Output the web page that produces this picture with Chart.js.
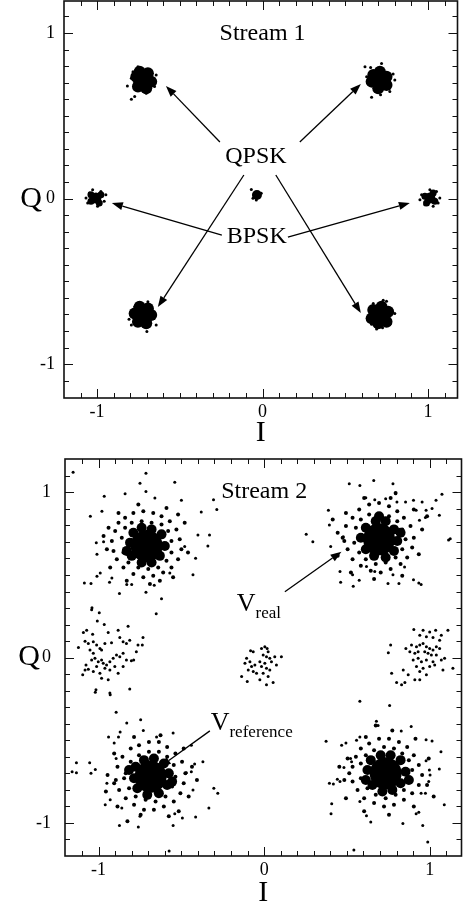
<!DOCTYPE html>
<html>
<head>
<meta charset="utf-8">
<script src="https://cdn.jsdelivr.net/npm/chart.js@4.4.0/dist/chart.umd.min.js"></script>
<style>
  body { margin: 0; background: #fff; overflow: hidden; }
  canvas { position: absolute; left: 0; }
</style>
</head>
<body>
<canvas id="stream1" width="463" height="451" style="top:0"></canvas>
<canvas id="stream2" width="463" height="461" style="top:450px"></canvas>
<script>
// axis tick labels (both plots)
const axisTicks = [-1, 0, 1];

// ---- Stream 1: tight clusters ----
// QPSK blob centres (I, Q)
const s1Qpsk = [[-0.723, 0.716], [0.709, 0.716], [-0.723, -0.704], [0.709, -0.704]];
// BPSK blobs and the small centre blob
const s1Bpsk = [[-1.007, 0.003], [1.011, 0.003]];
const s1Mid = [[-0.034, 0.021]];
// lumps giving each blob its ragged outline (hundredths of a unit)
const s1QpskLobes = [
  [[-4, 2], [-2, 5], [3, 4], [5, -1], [2, -5], [-3, -4]],
  [[-4, 3], [0, 5], [4, 2], [4, -3], [-1, -5], [-5, -1]],
  [[-5, 1], [-2, 5], [3, 4], [5, 0], [2, -5], [-3, -4]],
  [[-4, 3], [1, 5], [5, 2], [4, -4], [-1, -5], [-5, -2]]
];
const s1BpskLobes = [
  [[-3, 2], [3, 2], [2, -3], [-3, -2]],
  [[-3, 1], [2, 3], [3, -2], [-2, -3]]
];
// stray dots round each blob (hundredths)
const s1QpskDots = [
  [[-9.4, -3.6], [-7, -11.6], [-5, -10], [-6, 5], [-7, 1], [8, 3], [7, -4], [2, -8], [-3, 8]],
  [[-9, 8], [-5.6, 7.6], [1, 10], [8, 3.6], [9, 0], [-5, -10.4], [0.4, -9], [6, -7], [-8, 2]],
  [[-8.4, -2.6], [-7, -6], [2.4, -10], [8, -6], [7, -1], [-5, 5], [3, 8]],
  [[-7, -2.4], [-5, -5.6], [-2, -8.4], [1.6, -7.6], [6, -5.6], [9, 1], [4, 8.4], [2, 9], [-4, 7]]
];
const s1BpskDots = [
  [[-4, 3], [3, 4], [5, -2], [-5, -3], [1, -5], [6, 2], [-2, 5], [-6, 0]],
  [[-5, 2], [4, 4], [5, -3], [-3, -4], [0, 5], [6, 0], [-6, -1], [2, -5]]
];
const s1MidDots = [[[-3.4, 3.4], [-2.4, -2], [2.6, 1], [-0.4, -3]]];

const s1Labels = [
  { text: 'Stream 1', x: 0.0, y: 0.994 },
  { text: 'QPSK', x: -0.04, y: 0.25 },
  { text: 'BPSK', x: -0.035, y: -0.233 }
];
// arrows: from (I, Q) to (I, Q)
const s1Arrows = [
  [-0.258, 0.341, -0.584, 0.680],
  [0.225, 0.341, 0.594, 0.692],
  [-0.113, 0.142, -0.633, -0.656],
  [0.080, 0.142, 0.594, -0.692],
  [-0.246, -0.221, -0.911, -0.027],
  [0.153, -0.233, 0.890, -0.027]
];

// ---- Stream 2: spread clusters ----
const s2Qpsk = [[-0.71, 0.676], [0.694, 0.716], [-0.686, -0.72], [0.734, -0.70]];
const s2Side = [[-0.972, 0.016], [-0.014, -0.032], [0.97, 0.016]];

// lumps that make up the dense middle of each QPSK cluster (hundredths)
const s2Lobes = [
  [[-10,2],[-8,8],[-3,11],[3,10],[9,7],[11,0],[8,-6],[3,-10],[-3,-10],[-9,-6],[-5,4],[5,3],[0,-4],[-12,-3]],
  [[-11,1],[-8,7],[-2,11],[4,11],[9,6],[11,-1],[9,-7],[4,-11],[-3,-10],[-8,-6],[-4,3],[5,-3],[13,4],[0,14]],
  [[-10,-1],[-9,6],[-4,10],[2,11],[8,8],[11,2],[10,-5],[5,-10],[-2,-11],[-8,-7],[-3,-3],[4,4],[-13,4],[13,-3]],
  [[-11,2],[-9,8],[-3,11],[3,11],[9,8],[12,1],[9,-6],[4,-10],[-2,-11],[-8,-7],[-4,-2],[5,2],[14,-4],[-12,-4]]
];

// dense fringe round each QPSK core (hundredths)
const s2Fringe = [
  [[-21,3],[-19,9],[-17,14],[-13,17],[-8,20],[-2,21],[4,20],[9,18],[14,15],[18,10],[20,4],[21,-2],[19,-8],[15,-13],[10,-16],[4,-18],[-2,-19],[-8,-17],[-14,-13],[-18,-8],[-20,-3],
   [-15,5],[-13,11],[-9,14],[-3,15],[3,14],[9,13],[13,9],[15,3],[15,-4],[12,-9],[7,-13],[1,-14],[-5,-13],[-11,-10],[-14,-4],
   [-24,-2],[-23,11],[-5,25],[12,23],[23,14],[25,-4],[16,-19],[2,-23],[-12,-21],[-22,-13],[-26,6],[19,19],[-17,20],[8,-21]],
  [[-22,1],[-20,8],[-16,13],[-12,18],[-6,21],[0,22],[6,20],[11,17],[15,13],[19,8],[21,1],[20,-5],[17,-11],[13,-15],[7,-18],[1,-20],[-5,-19],[-11,-16],[-16,-12],[-19,-6],[-21,-1],
   [-14,7],[-11,12],[-6,15],[0,15],[6,14],[11,11],[14,6],[16,0],[14,-6],[10,-11],[4,-14],[-2,-15],[-8,-12],[-12,-8],[-15,-2],
   [-25,4],[-20,16],[-9,25],[7,25],[21,18],[26,6],[24,-9],[14,-22],[-3,-24],[-17,-20],[-25,-10],[29,14],[-28,12],[10,28]],
  [[-21,-2],[-20,6],[-17,12],[-12,17],[-7,19],[-1,21],[5,21],[10,18],[15,14],[19,9],[21,2],[20,-4],[18,-10],[14,-15],[8,-18],[2,-20],[-4,-20],[-10,-17],[-15,-13],[-19,-8],[-22,-4],
   [-15,2],[-12,9],[-7,13],[-1,15],[5,15],[10,12],[14,7],[15,0],[13,-6],[9,-12],[3,-15],[-3,-14],[-9,-12],[-13,-7],[-16,-1],
   [-26,1],[-22,14],[-10,24],[6,25],[20,17],[25,6],[23,-12],[11,-24],[-6,-23],[-20,-18],[-27,-9],[28,-2],[-14,-27],[17,-21]],
  [[-20,4],[-18,10],[-15,15],[-10,18],[-4,21],[2,21],[8,19],[13,16],[17,11],[20,5],[22,-1],[20,-7],[16,-12],[11,-16],[5,-19],[-1,-20],[-7,-18],[-13,-15],[-17,-10],[-20,-5],[-22,0],
   [-15,6],[-12,11],[-7,14],[-1,16],[5,15],[10,12],[14,8],[16,2],[15,-4],[11,-10],[6,-13],[0,-15],[-6,-13],[-11,-9],[-15,-3],
   [-25,-4],[-23,9],[-12,22],[4,26],[18,21],[26,9],[25,-7],[17,-20],[2,-25],[-13,-23],[-24,-15],[-28,4],[29,-14],[-6,29]]
];

// scattered outliers round each QPSK cluster (hundredths)
const s2Outliers = [
  [[-44.4,44.6],[-0.4,44],[-4,38],[17,38.6],[-25.6,30],[-0.4,33],[-13,31.6],[40.4,28],[42.4,22],[33,20.6],[-34,18],[-27,21],[21,27.6],[5,29],
   [31,6.6],[38,6.6],[37,0],[29.6,-7.4],[28,-17.4],[23,-0.4],[-30.4,2],[-30,-5],[-26,2.6],[-37.6,-22.4],[-33.6,-22.8],[-30,-18.4],[-28,-16.4],
   [-22.4,-22],[-21,-19.4],[-12,-23.4],[-9,-23.4],[-16.4,-28.8],[-0.4,-28],[4.6,-23.8],[9,-32],[-33,-37.4],[14,-16.4]],
  [[-18,33.6],[-11.6,32.6],[-3.2,35.6],[8.4,33.6],[10,27.6],[-8,25.2],[-2.6,24],[4,24.6],[10.8,22.6],[16,22.6],[20.8,23.6],[26,22.6],[34.4,23.6],[38,27.2],
   [-30.6,17.6],[-30,8.6],[-44,3],[-40,-1.4],[-29.2,-4.4],[-21.6,1.6],[22.4,17.6],[28.4,17.6],[32,18.6],[28,13.2],[36.4,14.6],[24.4,11.6],[42,-0.4],[43,0.4],
   [-23.6,-19.4],[-23.2,-26],[-16,-21.4],[-12,-24.8],[-15.6,-28.4],[5.4,-26.8],[12,-26.8],[20.8,-24.4],[24,-26.4],[25.4,-27.4],[15.4,-16.8],[8.4,-21.4],[-7.6,-16.4],[-2.6,-19.4]],
  [[-33.4,51],[-24.4,49.6],[-20.8,39],[-14.4,32.4],[-6,34.4],[-18.4,27],[-25.4,24],[-22,20.4],[13.6,26.4],[3.6,24],[24.6,19],[31.6,9],[26.6,7.6],
   [-44.8,8.4],[-36.8,8.4],[-47.4,3],[-44.8,2.4],[-36,2],[-33.4,4.4],[-20.8,11],[-26.4,-4],[-27.4,-17],[-24.4,-14],[-17.4,-19],[-18.8,-29.6],[-7.4,-30.4],
   [-6.4,-24],[13.6,-29.6],[19.2,-25],[27.2,-24.4],[35.2,-19],[38.2,-7],[40.6,-10],[25.6,-8],[21.6,2.4],[24.6,3],[14.6,-22.4],[11.2,-45],[-4.4,28],[-19.4,24]],
  [[-15.6,43.6],[2.4,41],[-5.6,31.6],[-4.6,29],[15.4,28.4],[9.4,25.6],[-36,19.4],[-26.6,17],[-24,18.4],[-17.6,20],[-15.6,22],[24.4,20.4],[28,19.6],[33.4,13],
   [32.4,2.6],[-21.2,9],[-20.6,7],[-25.2,3.6],[-27.6,-5],[-29.2,-3.6],[-34,-6],[-31.6,-6.4],[-32.6,-18.4],[-33,-24.4],[-11.6,-25.6],[-9,-29.4],[10.4,-30.4],
   [22.4,-31.6],[18.4,-24.4],[20,-23.6],[25.4,-41.6],[35.4,-19],[-19.2,-46.4],[-15.6,-17],[24,-12],[21.4,-12],[26,-5],[26.8,-1],[24.4,7.6],[26.4,2]]
];

// dots of the BPSK and centre clusters (hundredths)
const s2SideDots = [
  [[-7,27.4],[-2.4,25.6],[-3.6,20.6],[0.6,18.4],[-10,15],[-12,13.6],[-6.4,12.6],[3,13.6],[9,15],[15,17.4],[-11,8.4],[-9,7],[-6,8],[-4,6],[-2,4],[-1,3],
   [1,7],[5,7.4],[10,10.6],[12,8],[14,7],[16,9],[21,6],[23.6,6],[24,10.6],[-15,4.6],[-8,3],[-6,1],[-7,-3],[-5,-2],[-3,-4],[-1,-3],[0,-5],[2,-6],[4,-4],
   [6,-2],[8,0],[10,-1],[12,1],[14,-3],[17,-3.4],[18.4,-3],[20,2],[-10.4,-6],[-11,-9],[-9,-8.6],[-6,-10],[-4,-7],[-2,-11],[1,-8],[4,-9],[7,-7],[9,-11],
   [12,-7],[-12.4,-12],[-1,-14],[3,-15],[-4.4,-21],[4,-23],[16,-20.6],[32,25]],
  [[-6.8,7.4],[-5.2,6.8],[-9.2,2.8],[-7.2,0.8],[-10.2,-0.2],[-6.2,-2.2],[-4.2,-1.2],[-8.2,-4.2],[-5.2,-5.2],[-3.2,-6.2],[-12.2,-8.2],[-8.8,-11.2],
   [-0.2,8.8],[1.8,9.8],[3.2,8.8],[3.8,6.8],[0.8,4.8],[2.8,3.8],[4.8,2.8],[7.8,3.8],[11.8,3.8],[-1.2,0.8],[1.8,-0.2],[5.8,0.8],[8.8,-1.2],[-0.2,-2.2],
   [2.8,-3.2],[4.8,-4.2],[0.8,-6.2],[3.8,-8.2],[6.8,-11.8],[2.8,-13.2],[-1.2,-10.2]],
  [[-6.6,15.4],[-1,15],[3,14],[6.6,15],[10,12],[14,15],[-3,12],[1,11],[5,10.6],[9,9],[-11.4,4],[-8,6],[-5,5],[-3,6],[-1,7],[1,5],[3,4],[5,3],[7,5],
   [9,4],[-9,2],[-6,1],[-4,2],[0,2],[2,1],[4,0],[7,0],[-7,-3],[-4,-2],[-2,-4],[1,-3],[5,-4],[10,-3],[12,-2],[-5,-7],[-1,-8],[3,-7],[6,-6],[11,-9],
   [-13,-9],[-10,-12],[-3,-10],[1,-12],[-20,-11],[-17,-16.6],[-14,-18],[-12,-16.6],[-6,-15],[-3,-15],[-22,1.4],[-20.6,6],[17,-8]]
];

const s2Labels = [{ text: 'Stream 2', x: 0.0, y: 1.002 }];
const s2Arrows = [
  [0.125, 0.399, 0.467, 0.641],
  [-0.328, -0.443, -0.630, -0.661]
];
const s2Subs = [
  { sub: 'real', x: -0.165, y: 0.283 },
  { sub: 'reference', x: -0.323, y: -0.438 }
];

const SERIF = '"Liberation Serif", "Times New Roman", serif';

function cloud(centers, offsets) {
  const pts = [];
  centers.forEach((c, i) => {
    offsets[i].forEach(o => pts.push({ x: c[0] + o[0] / 100, y: c[1] + o[1] / 100 }));
  });
  return pts;
}

function asPoints(list) {
  return list.map(p => ({ x: p[0], y: p[1] }));
}

function dotSet(data, r, color) {
  return {
    data: data,
    pointRadius: r,
    pointHoverRadius: r,
    pointBorderWidth: 0,
    pointBackgroundColor: color || '#000',
    pointBorderColor: color || '#000'
  };
}

// inward ticks on all four sides plus the frame
const framePlugin = {
  id: 'frame',
  afterDraw(chart) {
    const { ctx, chartArea: a, scales: { x, y } } = chart;
    ctx.save();
    ctx.strokeStyle = '#111';
    ctx.lineWidth = 1;
    ctx.beginPath();
    for (let i = -12; i <= 12; i++) {
      const len = i % 10 === 0 ? 9 : 5;
      const px = Math.round(x.getPixelForValue(i / 10)) + 0.5;
      if (px > a.left + 2 && px < a.right - 2) {
        ctx.moveTo(px, a.bottom); ctx.lineTo(px, a.bottom - len);
        ctx.moveTo(px, a.top); ctx.lineTo(px, a.top + len);
      }
      const py = Math.round(y.getPixelForValue(i / 10)) + 0.5;
      if (py > a.top + 2 && py < a.bottom - 2) {
        ctx.moveTo(a.left, py); ctx.lineTo(a.left + len, py);
        ctx.moveTo(a.right, py); ctx.lineTo(a.right - len, py);
      }
    }
    ctx.stroke();
    ctx.lineWidth = 1.6;
    ctx.strokeRect(a.left, a.top, a.right - a.left, a.bottom - a.top);
    ctx.restore();
  }
};

function notesPlugin(labels, arrows, subs, qx) {
  return {
    id: 'notes',
    afterDatasetsDraw(chart) {
      const { ctx, chartArea: a, scales: { x, y } } = chart;
      ctx.save();
      ctx.strokeStyle = '#000';
      ctx.fillStyle = '#000';
      ctx.lineWidth = 1.3;
      arrows.forEach(ar => {
        const x0 = x.getPixelForValue(ar[0]), y0 = y.getPixelForValue(ar[1]);
        const x1 = x.getPixelForValue(ar[2]), y1 = y.getPixelForValue(ar[3]);
        const ang = Math.atan2(y1 - y0, x1 - x0);
        const hl = 11, hw = 4;
        const bx = x1 - hl * Math.cos(ang), by = y1 - hl * Math.sin(ang);
        ctx.beginPath(); ctx.moveTo(x0, y0); ctx.lineTo(bx, by); ctx.stroke();
        ctx.beginPath();
        ctx.moveTo(x1, y1);
        ctx.lineTo(bx + hw * Math.sin(ang), by - hw * Math.cos(ang));
        ctx.lineTo(bx - hw * Math.sin(ang), by + hw * Math.cos(ang));
        ctx.closePath(); ctx.fill();
      });
      ctx.font = '24px ' + SERIF;
      ctx.textAlign = 'center';
      ctx.textBaseline = 'middle';
      labels.forEach(l => ctx.fillText(l.text, x.getPixelForValue(l.x), y.getPixelForValue(l.y)));
      // upright axis title for Q
      ctx.font = '30px ' + SERIF;
      ctx.fillText('Q', qx, (a.top + a.bottom) / 2);
      ctx.textAlign = 'left';
      ctx.textBaseline = 'alphabetic';
      subs.forEach(s => {
        const px = x.getPixelForValue(s.x), py = y.getPixelForValue(s.y);
        ctx.font = '26px ' + SERIF;
        ctx.fillText('V', px, py);
        const w = ctx.measureText('V').width;
        ctx.font = '17px ' + SERIF;
        ctx.fillText(s.sub, px + w, py + 7);
      });
      ctx.restore();
    }
  };
}

function makeChart(id, datasets, lim, box, notes) {
  return new Chart(document.getElementById(id), {
    type: 'scatter',
    data: { datasets: datasets },
    options: {
      responsive: false,
      animation: false,
      events: [],
      layout: { autoPadding: false, padding: { top: box.top, right: box.right, left: 0, bottom: 0 } },
      plugins: { legend: { display: false }, tooltip: { enabled: false } },
      scales: {
        x: {
          type: 'linear', min: lim.x[0], max: lim.x[1],
          afterBuildTicks: s => { s.ticks = axisTicks.map(v => ({ value: v })); },
          afterFit: s => { s.height = box.xh; s.paddingLeft = 0; s.paddingRight = 0; },
          grid: { display: false, drawTicks: false },
          border: { display: false },
          ticks: { color: '#000', font: { family: SERIF, size: 18 }, padding: box.xpad,
                   callback: v => (v < 0 ? '-' + (-v) : String(v)) },
          title: { display: true, text: 'I', color: '#000', font: { family: SERIF, size: 30 }, padding: 0 }
        },
        y: {
          type: 'linear', min: lim.y[0], max: lim.y[1],
          afterBuildTicks: s => { s.ticks = axisTicks.map(v => ({ value: v })); },
          afterFit: s => { s.width = box.yw; s.paddingTop = 0; s.paddingBottom = 0; },
          grid: { display: false, drawTicks: false },
          border: { display: false },
          ticks: { color: '#000', font: { family: SERIF, size: 18 }, padding: box.ypad,
                   callback: v => (v < 0 ? '-' + (-v) : String(v)) },
          title: { display: false }
        }
      }
    },
    plugins: [framePlugin, notes]
  });
}

makeChart('stream1', [
  dotSet(cloud(s1Qpsk, s1QpskDots), 1.5),
  dotSet(cloud(s1Bpsk, s1BpskDots), 1.5),
  dotSet(cloud(s1Mid, s1MidDots), 1.5),
  dotSet(cloud(s1Qpsk, s1QpskLobes), 6),
  dotSet(cloud(s1Bpsk, s1BpskLobes), 3.5),
  dotSet(asPoints(s1Qpsk), 10),
  dotSet(asPoints(s1Bpsk), 5.5),
  dotSet(asPoints(s1Mid), 5)
], { x: [-1.2, 1.178], y: [-1.205, 1.193] },
   { top: 1, right: 5.5, xh: 53, yw: 64, xpad: 3, ypad: 9 },
   notesPlugin(s1Labels, s1Arrows, [], 31));

makeChart('stream2', [
  dotSet(cloud(s2Qpsk, s2Outliers), 1.5),
  dotSet(cloud(s2Side, s2SideDots), 1.5),
  dotSet(cloud(s2Qpsk, s2Fringe), 2),
  dotSet(cloud(s2Qpsk, s2Lobes), 5),
  dotSet(asPoints(s2Qpsk), 16),
  dotSet(asPoints(s2Qpsk), 3.6, '#a3d5d8')
], { x: [-1.203, 1.192], y: [-1.2, 1.202] },
   { top: 9, right: 1.5, xh: 55, yw: 65, xpad: 3, ypad: 14 },
   notesPlugin(s2Labels, s2Arrows, s2Subs, 29));
</script>
</body>
</html>
